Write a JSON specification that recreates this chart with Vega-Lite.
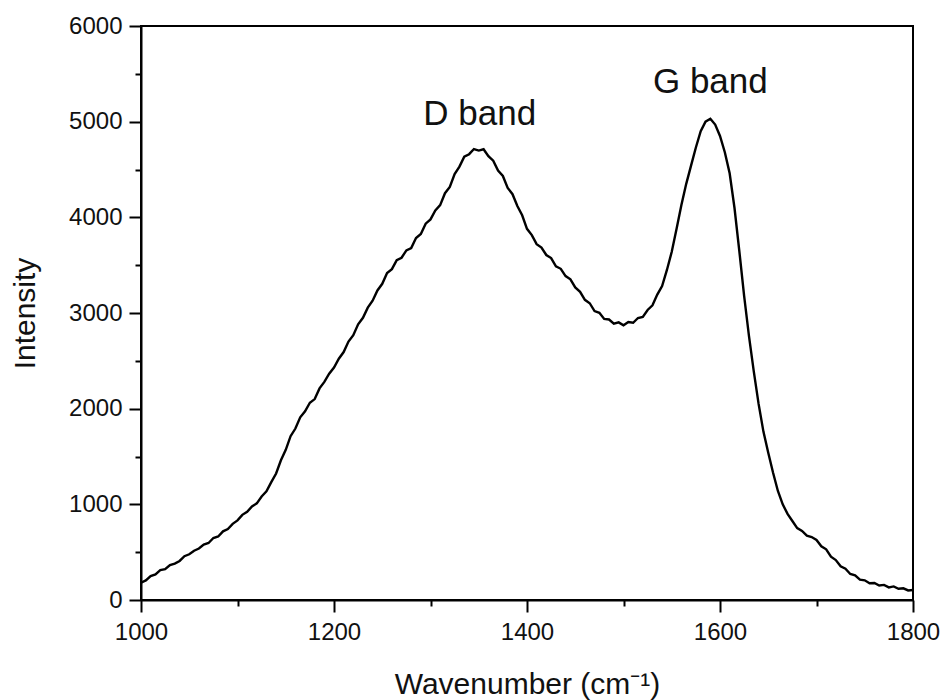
{
  "$schema": "https://vega.github.io/schema/vega-lite/v6.json",
  "width": 772,
  "height": 574,
  "autosize": {"type": "none"},
  "padding": {"left": 141, "top": 26, "right": 30, "bottom": 100},
  "background": "white",
  "config": {
    "view": {"stroke": "black", "strokeWidth": 2},
    "font": "Liberation Sans",
    "axis": {
      "domainColor": "black", "domainWidth": 2,
      "tickColor": "black", "tickWidth": 2,
      "labelColor": "#111", "labelFont": "Liberation Sans", "labelFontSize": 24,
      "titleColor": "#111", "titleFont": "Liberation Sans", "titleFontSize": 30, "titleFontWeight": "normal",
      "labelFlush": false, "labelOverlap": false,
      "grid": false
    }
  },
  "datasets": {
    "spectrum": [
      {"wavenumber": 1000, "intensity": 180}, {"wavenumber": 1005, "intensity": 205}, {"wavenumber": 1010, "intensity": 250},
      {"wavenumber": 1015, "intensity": 268}, {"wavenumber": 1020, "intensity": 312}, {"wavenumber": 1025, "intensity": 322},
      {"wavenumber": 1030, "intensity": 366}, {"wavenumber": 1035, "intensity": 380}, {"wavenumber": 1040, "intensity": 408},
      {"wavenumber": 1045, "intensity": 458}, {"wavenumber": 1050, "intensity": 478}, {"wavenumber": 1055, "intensity": 515},
      {"wavenumber": 1060, "intensity": 538}, {"wavenumber": 1065, "intensity": 580}, {"wavenumber": 1070, "intensity": 596},
      {"wavenumber": 1075, "intensity": 648}, {"wavenumber": 1080, "intensity": 664}, {"wavenumber": 1085, "intensity": 718},
      {"wavenumber": 1090, "intensity": 742}, {"wavenumber": 1095, "intensity": 796}, {"wavenumber": 1100, "intensity": 832},
      {"wavenumber": 1105, "intensity": 890}, {"wavenumber": 1110, "intensity": 922}, {"wavenumber": 1115, "intensity": 978},
      {"wavenumber": 1120, "intensity": 1010}, {"wavenumber": 1125, "intensity": 1082}, {"wavenumber": 1130, "intensity": 1135},
      {"wavenumber": 1135, "intensity": 1232}, {"wavenumber": 1140, "intensity": 1322}, {"wavenumber": 1145, "intensity": 1460},
      {"wavenumber": 1150, "intensity": 1570}, {"wavenumber": 1155, "intensity": 1712}, {"wavenumber": 1160, "intensity": 1792},
      {"wavenumber": 1165, "intensity": 1910}, {"wavenumber": 1170, "intensity": 1972}, {"wavenumber": 1175, "intensity": 2062},
      {"wavenumber": 1180, "intensity": 2100}, {"wavenumber": 1185, "intensity": 2212}, {"wavenumber": 1190, "intensity": 2280},
      {"wavenumber": 1195, "intensity": 2365}, {"wavenumber": 1200, "intensity": 2430}, {"wavenumber": 1205, "intensity": 2522},
      {"wavenumber": 1210, "intensity": 2592}, {"wavenumber": 1215, "intensity": 2702}, {"wavenumber": 1220, "intensity": 2768},
      {"wavenumber": 1225, "intensity": 2882}, {"wavenumber": 1230, "intensity": 2950}, {"wavenumber": 1235, "intensity": 3056},
      {"wavenumber": 1240, "intensity": 3128}, {"wavenumber": 1245, "intensity": 3236}, {"wavenumber": 1250, "intensity": 3305},
      {"wavenumber": 1255, "intensity": 3418}, {"wavenumber": 1260, "intensity": 3458}, {"wavenumber": 1265, "intensity": 3552},
      {"wavenumber": 1270, "intensity": 3578}, {"wavenumber": 1275, "intensity": 3655}, {"wavenumber": 1280, "intensity": 3678},
      {"wavenumber": 1285, "intensity": 3784}, {"wavenumber": 1290, "intensity": 3826}, {"wavenumber": 1295, "intensity": 3934},
      {"wavenumber": 1300, "intensity": 3978}, {"wavenumber": 1305, "intensity": 4072}, {"wavenumber": 1310, "intensity": 4128},
      {"wavenumber": 1315, "intensity": 4252}, {"wavenumber": 1320, "intensity": 4318}, {"wavenumber": 1325, "intensity": 4452},
      {"wavenumber": 1330, "intensity": 4530}, {"wavenumber": 1335, "intensity": 4634}, {"wavenumber": 1340, "intensity": 4660},
      {"wavenumber": 1345, "intensity": 4714}, {"wavenumber": 1350, "intensity": 4698}, {"wavenumber": 1355, "intensity": 4712},
      {"wavenumber": 1360, "intensity": 4640}, {"wavenumber": 1365, "intensity": 4592}, {"wavenumber": 1370, "intensity": 4488},
      {"wavenumber": 1375, "intensity": 4432}, {"wavenumber": 1380, "intensity": 4308}, {"wavenumber": 1385, "intensity": 4242},
      {"wavenumber": 1390, "intensity": 4118}, {"wavenumber": 1395, "intensity": 4022}, {"wavenumber": 1400, "intensity": 3880},
      {"wavenumber": 1405, "intensity": 3814}, {"wavenumber": 1410, "intensity": 3720}, {"wavenumber": 1415, "intensity": 3684},
      {"wavenumber": 1420, "intensity": 3606}, {"wavenumber": 1425, "intensity": 3574}, {"wavenumber": 1430, "intensity": 3488},
      {"wavenumber": 1435, "intensity": 3462}, {"wavenumber": 1440, "intensity": 3386}, {"wavenumber": 1445, "intensity": 3352},
      {"wavenumber": 1450, "intensity": 3268}, {"wavenumber": 1455, "intensity": 3222}, {"wavenumber": 1460, "intensity": 3138},
      {"wavenumber": 1465, "intensity": 3102}, {"wavenumber": 1470, "intensity": 3020}, {"wavenumber": 1475, "intensity": 3002},
      {"wavenumber": 1480, "intensity": 2938}, {"wavenumber": 1485, "intensity": 2932}, {"wavenumber": 1490, "intensity": 2888},
      {"wavenumber": 1495, "intensity": 2902}, {"wavenumber": 1500, "intensity": 2872}, {"wavenumber": 1505, "intensity": 2906},
      {"wavenumber": 1510, "intensity": 2898}, {"wavenumber": 1515, "intensity": 2948}, {"wavenumber": 1520, "intensity": 2960},
      {"wavenumber": 1525, "intensity": 3032}, {"wavenumber": 1530, "intensity": 3080}, {"wavenumber": 1535, "intensity": 3192},
      {"wavenumber": 1540, "intensity": 3282}, {"wavenumber": 1545, "intensity": 3450}, {"wavenumber": 1550, "intensity": 3640},
      {"wavenumber": 1555, "intensity": 3880}, {"wavenumber": 1560, "intensity": 4130}, {"wavenumber": 1565, "intensity": 4350},
      {"wavenumber": 1570, "intensity": 4540}, {"wavenumber": 1575, "intensity": 4730}, {"wavenumber": 1580, "intensity": 4900},
      {"wavenumber": 1585, "intensity": 5000}, {"wavenumber": 1590, "intensity": 5030}, {"wavenumber": 1595, "intensity": 4970},
      {"wavenumber": 1600, "intensity": 4850}, {"wavenumber": 1605, "intensity": 4680}, {"wavenumber": 1610, "intensity": 4460},
      {"wavenumber": 1615, "intensity": 4100}, {"wavenumber": 1620, "intensity": 3650}, {"wavenumber": 1625, "intensity": 3180},
      {"wavenumber": 1630, "intensity": 2760}, {"wavenumber": 1635, "intensity": 2390}, {"wavenumber": 1640, "intensity": 2050},
      {"wavenumber": 1645, "intensity": 1760}, {"wavenumber": 1650, "intensity": 1540}, {"wavenumber": 1655, "intensity": 1330},
      {"wavenumber": 1660, "intensity": 1140}, {"wavenumber": 1665, "intensity": 1000}, {"wavenumber": 1670, "intensity": 900},
      {"wavenumber": 1675, "intensity": 826}, {"wavenumber": 1680, "intensity": 752}, {"wavenumber": 1685, "intensity": 722},
      {"wavenumber": 1690, "intensity": 672}, {"wavenumber": 1695, "intensity": 658}, {"wavenumber": 1700, "intensity": 628},
      {"wavenumber": 1705, "intensity": 562}, {"wavenumber": 1710, "intensity": 530}, {"wavenumber": 1715, "intensity": 452},
      {"wavenumber": 1720, "intensity": 418}, {"wavenumber": 1725, "intensity": 352}, {"wavenumber": 1730, "intensity": 328},
      {"wavenumber": 1735, "intensity": 272}, {"wavenumber": 1740, "intensity": 258}, {"wavenumber": 1745, "intensity": 212},
      {"wavenumber": 1750, "intensity": 206}, {"wavenumber": 1755, "intensity": 176}, {"wavenumber": 1760, "intensity": 178},
      {"wavenumber": 1765, "intensity": 152}, {"wavenumber": 1770, "intensity": 158}, {"wavenumber": 1775, "intensity": 132},
      {"wavenumber": 1780, "intensity": 142}, {"wavenumber": 1785, "intensity": 118}, {"wavenumber": 1790, "intensity": 122},
      {"wavenumber": 1795, "intensity": 100}, {"wavenumber": 1800, "intensity": 104}
    ],
    "bands": [
      {"wavenumber": 1351, "intensity": 4965, "label": "D band"},
      {"wavenumber": 1590, "intensity": 5296, "label": "G band"}
    ]
  },
  "resolve": {"axis": {"x": "independent", "y": "independent"}},
  "layer": [
    {
      "data": {"name": "spectrum"},
      "mark": {"type": "line", "color": "black", "strokeWidth": 2.4, "clip": true},
      "encoding": {
        "x": {
          "field": "wavenumber", "type": "quantitative",
          "scale": {"domain": [1000, 1800], "nice": false, "zero": false},
          "axis": {
            "orient": "bottom", "title": "Wavenumber (cm⁻¹)",
            "values": [1000, 1200, 1400, 1600, 1800], "format": "d",
            "tickSize": 12, "labelPadding": 8, "labelFlush": false,
            "titleBaseline": "alphabetic", "titleY": 93
          }
        },
        "y": {
          "field": "intensity", "type": "quantitative",
          "scale": {"domain": [0, 6000], "nice": false},
          "axis": {
            "orient": "left", "title": "Intensity",
            "values": [0, 1000, 2000, 3000, 4000, 5000, 6000], "format": "d",
            "tickSize": 12, "labelPadding": 7, "labelFlush": false,
            "titleBaseline": "alphabetic", "titleX": -107
          }
        }
      }
    },
    {
      "data": {"name": "bands"},
      "mark": {"type": "text", "font": "Liberation Sans", "fontSize": 35, "color": "#111", "baseline": "alphabetic", "align": "center"},
      "encoding": {
        "x": {
          "field": "wavenumber", "type": "quantitative",
          "axis": {
            "orient": "bottom", "title": null, "labels": false, "domain": false,
            "values": [1100, 1300, 1500, 1700], "tickSize": 6
          }
        },
        "y": {
          "field": "intensity", "type": "quantitative",
          "axis": {
            "orient": "left", "title": null, "labels": false, "domain": false,
            "values": [500, 1500, 2500, 3500, 4500, 5500], "tickSize": 6
          }
        },
        "text": {"field": "label"}
      }
    }
  ]
}
